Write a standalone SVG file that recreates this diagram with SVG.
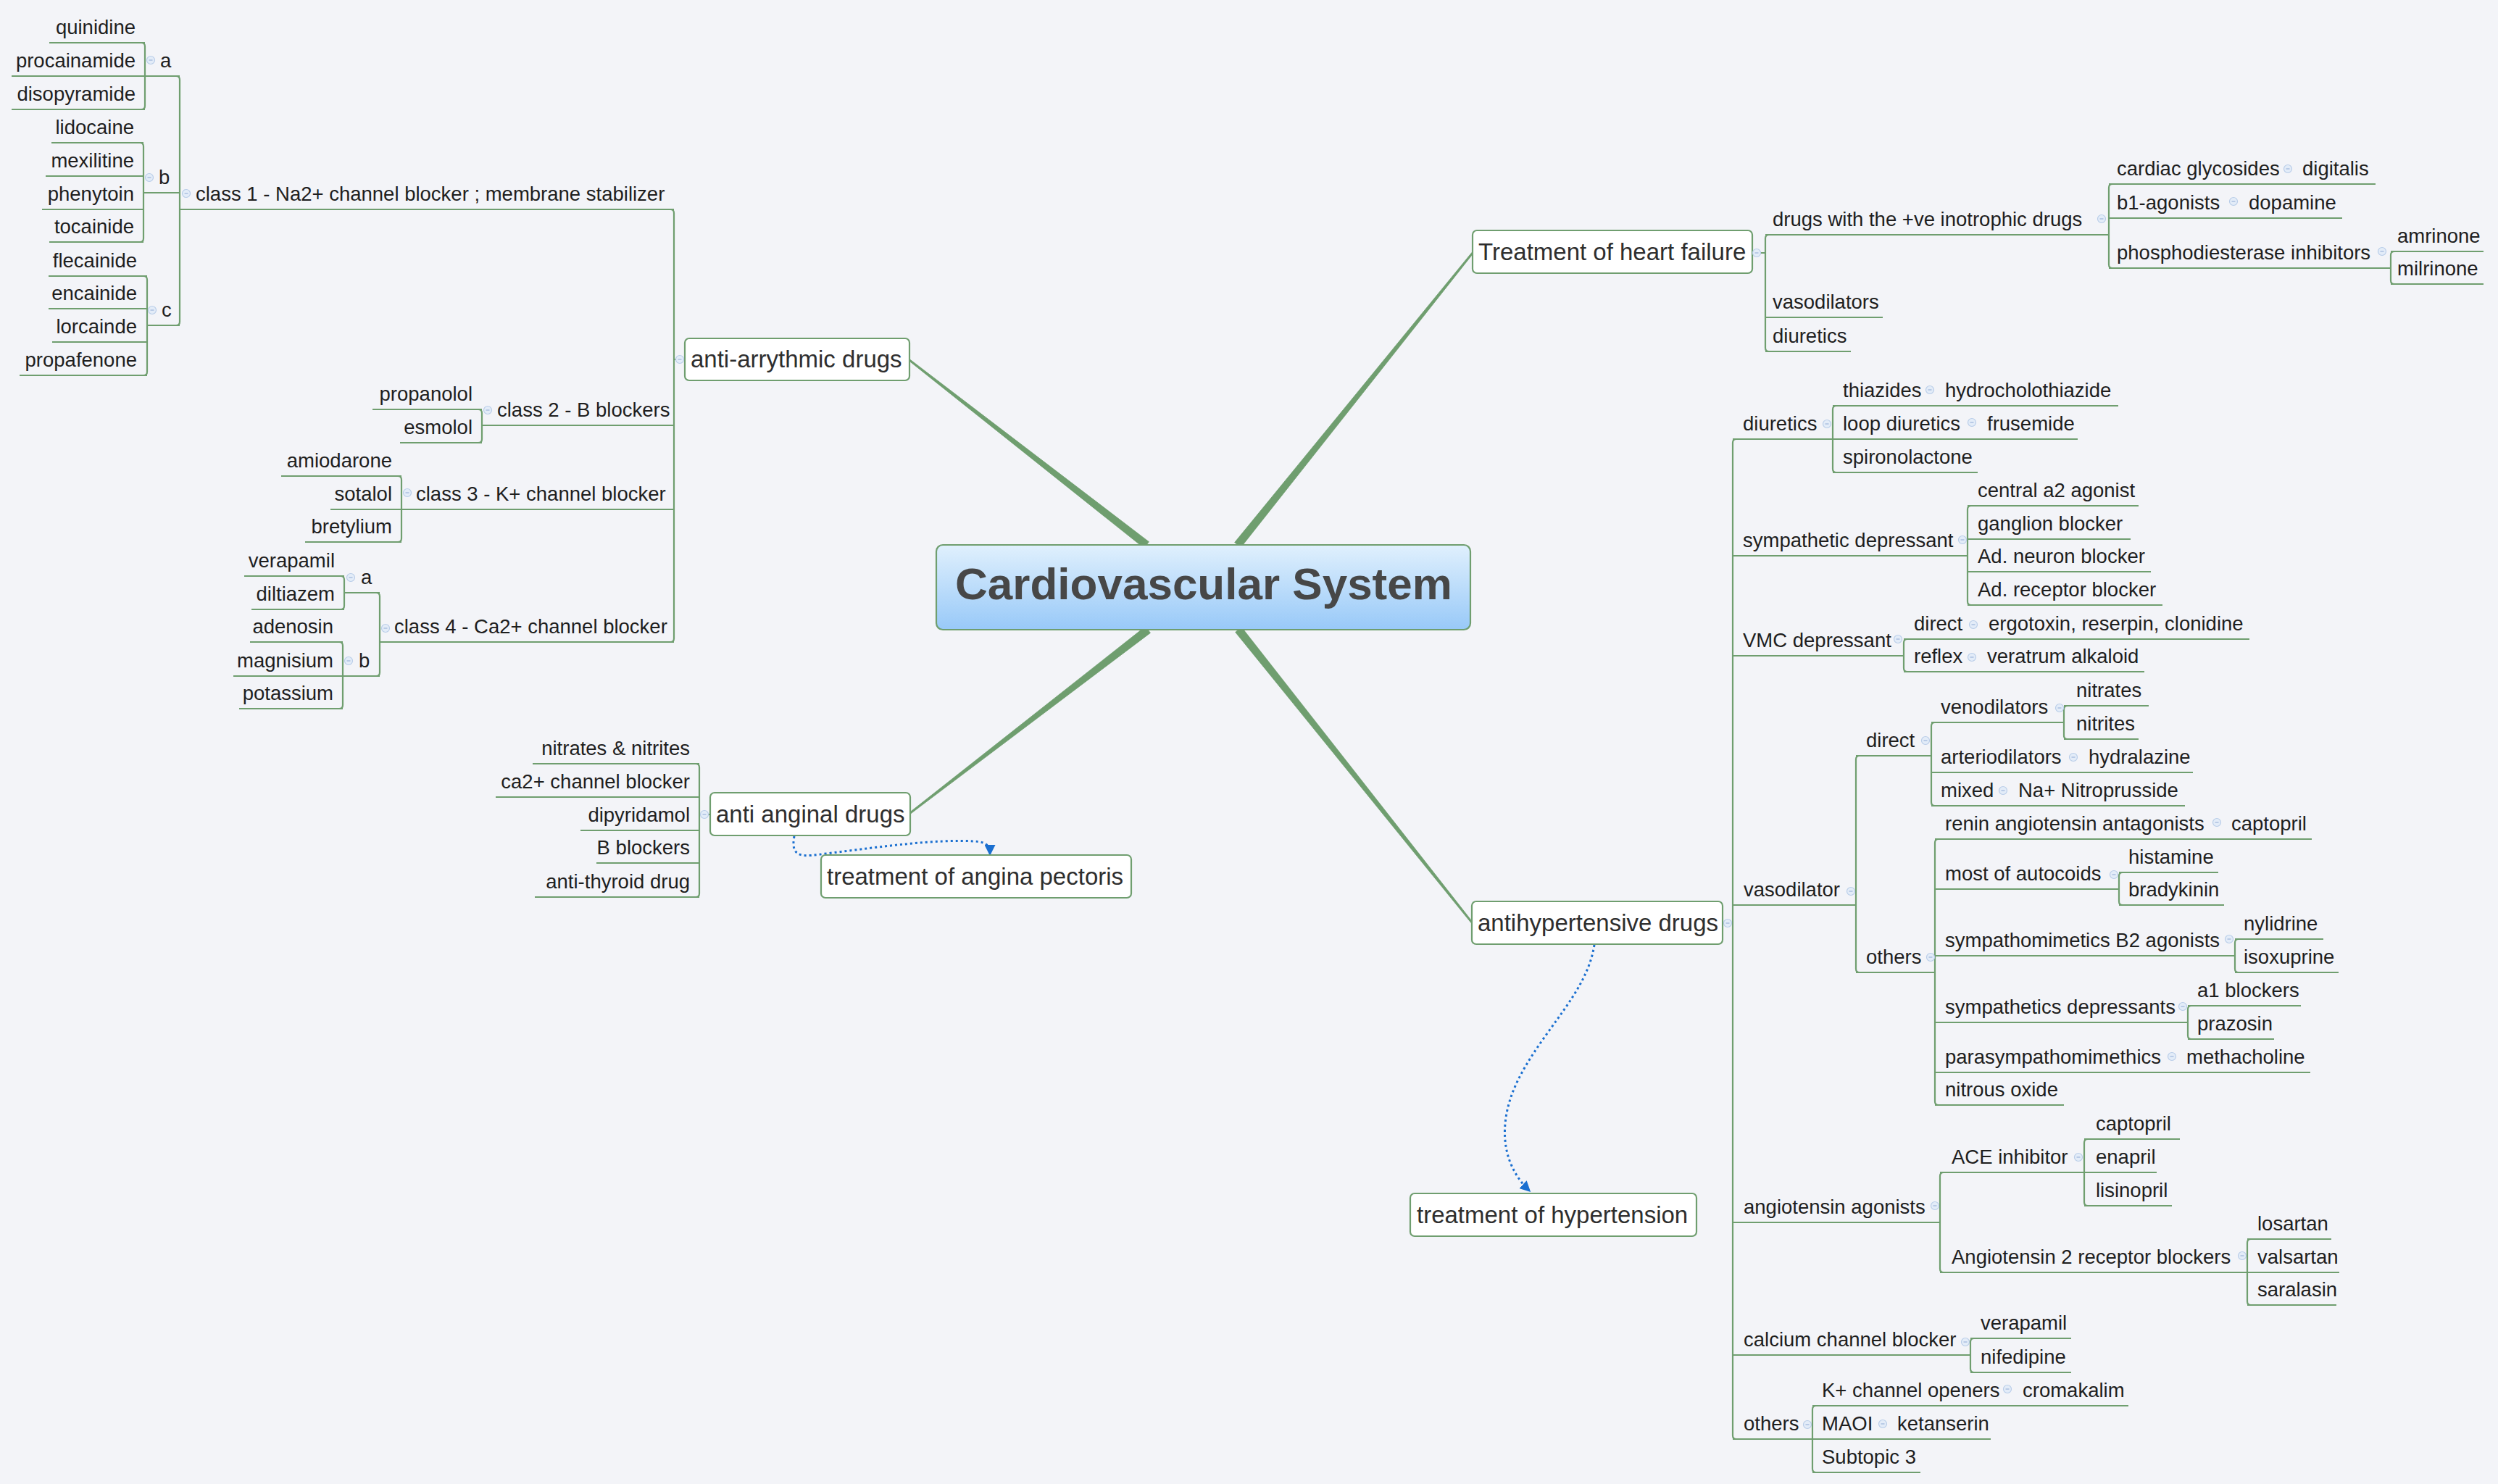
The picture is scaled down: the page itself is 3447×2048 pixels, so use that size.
<svg xmlns="http://www.w3.org/2000/svg" xmlns:xlink="http://www.w3.org/1999/xlink" width="3447" height="2048" viewBox="0 0 3447 2048">
<defs>
<style>
.t{font-family:"Liberation Sans",Arial,sans-serif;font-size:27.5px;fill:#1e1e1e}
.te{font-family:"Liberation Sans",Arial,sans-serif;font-size:27.5px;fill:#1e1e1e;text-anchor:end}
.tp{font-family:"Liberation Sans",Arial,sans-serif;font-size:33px;fill:#2e2e2e}
.box{fill:#ffffff;stroke:#6f9e6f;stroke-width:2.2}
.ln{fill:none;stroke:#6f9e6f;stroke-width:2.2}
.trunk{fill:#6f9e6f;stroke:#6f9e6f;stroke-width:0.8;stroke-linejoin:round}
.rel{fill:none;stroke:#1a6fd0;stroke-width:3;stroke-dasharray:3 4}
</style>
<linearGradient id="cg" x1="0" y1="0" x2="0" y2="1">
<stop offset="0" stop-color="#e0f0fd"/>
<stop offset="1" stop-color="#98c9f8"/>
</linearGradient>
<g id="dot"><circle r="5.5" fill="#e3ecf8" stroke="#b9cde8" stroke-width="1.2"/><line x1="-2.5" y1="0" x2="2.5" y2="0" stroke="#9db6da" stroke-width="1.2"/></g>
<marker id="arr" viewBox="0 0 10 10" refX="8" refY="5" markerWidth="5" markerHeight="5" orient="auto" markerUnits="strokeWidth">
<path d="M0,0 L10,5 L0,10 z" fill="#1a6fd0"/>
</marker>
</defs>
<rect x="0" y="0" width="3447" height="2048" fill="#f3f4f8"/>

<g id="connectors">
<polygon class="trunk" points="1585.4,747.7 1255.7,496.1 1254.3,497.9 1578.6,756.3"/>
<polygon class="trunk" points="1712.3,755.4 2032.9,349.7 2031.1,348.3 1703.7,748.6"/>
<polygon class="trunk" points="1587.4,873.4 1256.7,1122.9 1255.3,1121.1 1580.6,864.6"/>
<polygon class="trunk" points="1713.3,865.6 2031.9,1272.3 2030.1,1273.7 1704.7,872.4"/>
<path class="ln" d="M925,289 Q930,289 930,294 V881 Q930,886 925,886 M930,496 H945
M248,289 H930 M200,105 H248 M68,59 H200 M16,105 H200 M16,151 H200
M195,59 Q200,59 200,64 V146 Q200,151 195,151
M243,105 Q248,105 248,110 V444 Q248,449 243,449
M198,266 H248 M193,197 Q198,197 198,202 V329 Q198,334 193,334
M71,197 H198 M63,243 H198 M58,289 H198 M68,334 H198
M203,449 H248 M198,381 Q203,381 203,386 V513 Q203,518 198,518
M67,381 H203 M67,426 H203 M72,472 H203 M27,518 H203
M665,587 H930 M660,565 Q665,565 665,570 V606 Q665,611 660,611 M514,565 H665 M552,611 H665
M554,703 H930 M549,657 Q554,657 554,662 V743 Q554,748 549,748 M388,657 H554 M456,703 H554 M421,748 H554
M524,886 H930 M519,818 Q524,818 524,823 V928 Q524,933 519,933
M475,818 H524 M470,795 Q475,795 475,800 V836 Q475,841 470,841 M337,795 H475 M347,841 H475
M473,933 H524 M468,886 Q473,886 473,891 V973 Q473,978 468,978 M345,886 H473 M322,933 H473 M330,978 H473
M960,1054 Q965,1054 965,1059 V1233 Q965,1238 960,1238 M965,1124 H980
M735,1054 H965 M684,1100 H965 M801,1146 H965 M823,1191 H965 M738,1238 H965"/>
<path class="ln" d="M2418,349 H2436 M2441,324 Q2436,324 2436,329 V480 Q2436,485 2441,485
M2436,324 H2910 M2915,254 Q2910,254 2910,259 V365 Q2910,370 2915,370
M2910,254 H3278 M2910,301 H3232 M2910,370 H3299
M3304,347 Q3299,347 3299,352 V387 Q3299,392 3304,392 M3299,347 H3427 M3299,392 H3427
M2436,438 H2598 M2436,485 H2554"/>
<path class="ln" d="M2377,1274 H2391 M2396,606 Q2391,606 2391,611 V1981 Q2391,1986 2396,1986
M2391,606 H2529 M2534,560 Q2529,560 2529,565 V647 Q2529,652 2534,652
M2529,560 H2923 M2529,606 H2867 M2529,652 H2729
M2391,767 H2715 M2720,698 Q2715,698 2715,703 V830 Q2715,835 2720,835
M2715,698 H2951 M2715,744 H2940 M2715,789 H2968 M2715,835 H2984
M2391,905 H2627 M2632,882 Q2627,882 2627,887 V922 Q2627,927 2632,927
M2627,882 H3104 M2627,927 H2959
M2391,1249 H2561 M2566,1043 Q2561,1043 2561,1048 V1337 Q2561,1342 2566,1342
M2561,1043 H2665 M2670,997 Q2665,997 2665,1002 V1107 Q2665,1112 2670,1112
M2665,997 H2848 M2853,974 Q2848,974 2848,979 V1015 Q2848,1020 2853,1020
M2848,974 H2965 M2848,1020 H2951 M2665,1066 H3026 M2665,1112 H3015
M2561,1342 H2670 M2675,1158 Q2670,1158 2670,1163 V1520 Q2670,1525 2675,1525
M2670,1158 H3190 M2670,1227 H2924 M2929,1204 Q2924,1204 2924,1209 V1244 Q2924,1249 2929,1249
M2924,1204 H3061 M2924,1249 H3069
M2670,1319 H3084 M3089,1296 Q3084,1296 3084,1301 V1337 Q3084,1342 3089,1342
M3084,1296 H3206 M3084,1342 H3227
M2670,1411 H3019 M3024,1388 Q3019,1388 3019,1393 V1429 Q3019,1434 3024,1434
M3019,1388 H3175 M3019,1434 H3138
M2670,1480 H3188 M2670,1525 H2848
M2391,1687 H2677 M2682,1618 Q2677,1618 2677,1623 V1751 Q2677,1756 2682,1756
M2677,1618 H2876 M2881,1572 Q2876,1572 2876,1577 V1659 Q2876,1664 2881,1664
M2876,1572 H3008 M2876,1618 H2976 M2876,1664 H2997
M2677,1756 H3101 M3106,1710 Q3101,1710 3101,1715 V1796 Q3101,1801 3106,1801
M3101,1710 H3217 M3101,1756 H3228 M3101,1801 H3224
M2391,1870 H2719 M2724,1847 Q2719,1847 2719,1852 V1889 Q2719,1894 2724,1894
M2719,1847 H2858 M2719,1894 H2858
M2391,1986 H2501 M2506,1940 Q2501,1940 2501,1945 V2027 Q2501,2032 2506,2032
M2501,1940 H2937 M2501,1986 H2747 M2501,2032 H2650"/>
<path class="rel" d="M1096,1154 C1090,1186 1110,1182 1140,1178 C1220,1168 1290,1158 1345,1161 C1362,1162 1366,1168 1366,1178" marker-end="url(#arr)"/>
<path class="rel" d="M2200,1304 C2190,1370 2130,1420 2095,1490 C2070,1540 2066,1600 2110,1643" marker-end="url(#arr)"/>
</g>

<g id="central">
<rect x="1292" y="752" width="737" height="117" rx="9" fill="url(#cg)" stroke="#6f9e6f" stroke-width="2.2"/>
<text x="1661" y="827" text-anchor="middle" style="font-family:'Liberation Sans',Arial,sans-serif;font-size:62px;font-weight:bold;fill:#474747">Cardiovascular System</text>
</g>

<g id="anti-arrythmic">
<rect class="box" x="945" y="467" width="310" height="58" rx="6"/>
<text class="tp" x="953" y="507">anti-arrythmic drugs</text>
<use xlink:href="#dot" x="938" y="496"/>
</g>
<g id="class1"><text class="t" x="270" y="277">class 1 - Na2+ channel blocker ; membrane stabilizer</text><use xlink:href="#dot" x="257" y="267"/></g>
<g id="class1-a"><text class="t" x="221" y="93">a</text><use xlink:href="#dot" x="208" y="83"/></g>
<g id="quinidine"><text class="te" x="187" y="47">quinidine</text></g>
<g id="procainamide"><text class="te" x="187" y="93">procainamide</text></g>
<g id="disopyramide"><text class="te" x="187" y="139">disopyramide</text></g>
<g id="class1-b"><text class="t" x="219" y="254">b</text><use xlink:href="#dot" x="206" y="245"/></g>
<g id="lidocaine"><text class="te" x="185" y="185">lidocaine</text></g>
<g id="mexilitine"><text class="te" x="185" y="231">mexilitine</text></g>
<g id="phenytoin"><text class="te" x="185" y="277">phenytoin</text></g>
<g id="tocainide"><text class="te" x="185" y="322">tocainide</text></g>
<g id="class1-c"><text class="t" x="223" y="437">c</text><use xlink:href="#dot" x="210" y="428"/></g>
<g id="flecainide"><text class="te" x="189" y="369">flecainide</text></g>
<g id="encainide"><text class="te" x="189" y="414">encainide</text></g>
<g id="lorcainde"><text class="te" x="189" y="460">lorcainde</text></g>
<g id="propafenone"><text class="te" x="189" y="506">propafenone</text></g>
<g id="class2"><text class="t" x="686" y="575">class 2 - B blockers</text><use xlink:href="#dot" x="673" y="566"/></g>
<g id="propanolol"><text class="te" x="652" y="553">propanolol</text></g>
<g id="esmolol"><text class="te" x="652" y="599">esmolol</text></g>
<g id="class3"><text class="t" x="574" y="691">class 3 - K+ channel blocker</text><use xlink:href="#dot" x="562" y="680"/></g>
<g id="amiodarone"><text class="te" x="541" y="645">amiodarone</text></g>
<g id="sotalol"><text class="te" x="541" y="691">sotalol</text></g>
<g id="bretylium"><text class="te" x="541" y="736">bretylium</text></g>
<g id="class4"><text class="t" x="544" y="874">class 4 - Ca2+ channel blocker</text><use xlink:href="#dot" x="532" y="867"/></g>
<g id="class4-a"><text class="t" x="498" y="806">a</text><use xlink:href="#dot" x="484" y="797"/></g>
<g id="verapamil-1"><text class="te" x="462" y="783">verapamil</text></g>
<g id="diltiazem"><text class="te" x="462" y="829">diltiazem</text></g>
<g id="class4-b"><text class="t" x="495" y="921">b</text><use xlink:href="#dot" x="481" y="912"/></g>
<g id="adenosin"><text class="te" x="460" y="874">adenosin</text></g>
<g id="magnisium"><text class="te" x="460" y="921">magnisium</text></g>
<g id="potassium"><text class="te" x="460" y="966">potassium</text></g>

<g id="anti-anginal">
<rect class="box" x="980" y="1094" width="276" height="59" rx="6"/>
<text class="tp" x="988" y="1135">anti anginal drugs</text>
<use xlink:href="#dot" x="972" y="1124"/>
</g>
<g id="nitrates-nitrites"><text class="te" x="952" y="1042">nitrates &amp; nitrites</text></g>
<g id="ca2-blocker"><text class="te" x="952" y="1088">ca2+ channel blocker</text></g>
<g id="dipyridamol"><text class="te" x="952" y="1134">dipyridamol</text></g>
<g id="b-blockers"><text class="te" x="952" y="1179">B blockers</text></g>
<g id="anti-thyroid"><text class="te" x="952" y="1226">anti-thyroid drug</text></g>
<g id="angina-pectoris">
<rect class="box" x="1133" y="1180" width="428" height="59" rx="6"/>
<text class="tp" x="1141" y="1221">treatment of angina pectoris</text>
</g>

<g id="heart-failure">
<rect class="box" x="2032" y="318" width="386" height="59" rx="6"/>
<text class="tp" x="2040" y="359">Treatment of heart failure</text>
<use xlink:href="#dot" x="2424" y="349"/>
</g>
<g id="inotrophic"><text class="t" x="2446" y="312">drugs with the +ve inotrophic drugs</text><use xlink:href="#dot" x="2900" y="302"/></g>
<g id="cardiac-glycosides"><text class="t" x="2921" y="242">cardiac glycosides</text><use xlink:href="#dot" x="3157" y="233"/></g>
<g id="digitalis"><text class="t" x="3177" y="242">digitalis</text></g>
<g id="b1-agonists"><text class="t" x="2921" y="289">b1-agonists</text><use xlink:href="#dot" x="3082" y="278"/></g>
<g id="dopamine"><text class="t" x="3103" y="289">dopamine</text></g>
<g id="pde-inhibitors"><text class="t" x="2921" y="358">phosphodiesterase inhibitors</text><use xlink:href="#dot" x="3287" y="347"/></g>
<g id="amrinone"><text class="t" x="3308" y="335">amrinone</text></g>
<g id="milrinone"><text class="t" x="3308" y="380">milrinone</text></g>
<g id="hf-vasodilators"><text class="t" x="2446" y="426">vasodilators</text></g>
<g id="hf-diuretics"><text class="t" x="2446" y="473">diuretics</text></g>

<g id="antihypertensive">
<rect class="box" x="2031" y="1244" width="346" height="59" rx="6"/>
<text class="tp" x="2039" y="1285">antihypertensive drugs</text>
<use xlink:href="#dot" x="2384" y="1274"/>
</g>
<g id="hypertension">
<rect class="box" x="1946" y="1647" width="395" height="59" rx="6"/>
<text class="tp" x="1955" y="1688">treatment of hypertension</text>
</g>
<g id="diuretics"><text class="t" x="2405" y="594">diuretics</text><use xlink:href="#dot" x="2521" y="585"/></g>
<g id="thiazides"><text class="t" x="2543" y="548">thiazides</text><use xlink:href="#dot" x="2663" y="538"/></g>
<g id="hydrocholothiazide"><text class="t" x="2684" y="548">hydrocholothiazide</text></g>
<g id="loop-diuretics"><text class="t" x="2543" y="594">loop diuretics</text><use xlink:href="#dot" x="2721" y="583"/></g>
<g id="frusemide"><text class="t" x="2742" y="594">frusemide</text></g>
<g id="spironolactone"><text class="t" x="2543" y="640">spironolactone</text></g>
<g id="sympathetic-depressant"><text class="t" x="2405" y="755">sympathetic depressant</text><use xlink:href="#dot" x="2708" y="745"/></g>
<g id="central-a2"><text class="t" x="2729" y="686">central a2 agonist</text></g>
<g id="ganglion"><text class="t" x="2729" y="732">ganglion blocker</text></g>
<g id="ad-neuron"><text class="t" x="2729" y="777">Ad. neuron blocker</text></g>
<g id="ad-receptor"><text class="t" x="2729" y="823">Ad. receptor blocker</text></g>
<g id="vmc"><text class="t" x="2405" y="893">VMC depressant</text><use xlink:href="#dot" x="2619" y="882"/></g>
<g id="vmc-direct"><text class="t" x="2641" y="870">direct</text><use xlink:href="#dot" x="2723" y="862"/></g>
<g id="ergotoxin"><text class="t" x="2744" y="870">ergotoxin, reserpin, clonidine</text></g>
<g id="reflex"><text class="t" x="2641" y="915">reflex</text><use xlink:href="#dot" x="2721" y="907"/></g>
<g id="veratrum"><text class="t" x="2742" y="915">veratrum alkaloid</text></g>
<g id="vasodilator"><text class="t" x="2406" y="1237">vasodilator</text><use xlink:href="#dot" x="2554" y="1230"/></g>
<g id="vd-direct"><text class="t" x="2575" y="1031">direct</text><use xlink:href="#dot" x="2657" y="1022"/></g>
<g id="venodilators"><text class="t" x="2678" y="985">venodilators</text><use xlink:href="#dot" x="2842" y="977"/></g>
<g id="nitrates"><text class="t" x="2865" y="962">nitrates</text></g>
<g id="nitrites"><text class="t" x="2865" y="1008">nitrites</text></g>
<g id="arteriodilators"><text class="t" x="2678" y="1054">arteriodilators</text><use xlink:href="#dot" x="2861" y="1045"/></g>
<g id="hydralazine"><text class="t" x="2882" y="1054">hydralazine</text></g>
<g id="mixed"><text class="t" x="2678" y="1100">mixed</text><use xlink:href="#dot" x="2764" y="1091"/></g>
<g id="nitroprusside"><text class="t" x="2785" y="1100">Na+ Nitroprusside</text></g>
<g id="vd-others"><text class="t" x="2575" y="1330">others</text><use xlink:href="#dot" x="2664" y="1321"/></g>
<g id="renin"><text class="t" x="2684" y="1146">renin angiotensin antagonists</text><use xlink:href="#dot" x="3059" y="1135"/></g>
<g id="captopril-1"><text class="t" x="3079" y="1146">captopril</text></g>
<g id="autocoids"><text class="t" x="2684" y="1215">most of autocoids</text><use xlink:href="#dot" x="2917" y="1207"/></g>
<g id="histamine"><text class="t" x="2937" y="1192">histamine</text></g>
<g id="bradykinin"><text class="t" x="2937" y="1237">bradykinin</text></g>
<g id="b2-agonists"><text class="t" x="2684" y="1307">sympathomimetics B2 agonists</text><use xlink:href="#dot" x="3076" y="1296"/></g>
<g id="nylidrine"><text class="t" x="3096" y="1284">nylidrine</text></g>
<g id="isoxuprine"><text class="t" x="3096" y="1330">isoxuprine</text></g>
<g id="symp-depressants"><text class="t" x="2684" y="1399">sympathetics depressants</text><use xlink:href="#dot" x="3012" y="1389"/></g>
<g id="a1-blockers"><text class="t" x="3032" y="1376">a1 blockers</text></g>
<g id="prazosin"><text class="t" x="3032" y="1422">prazosin</text></g>
<g id="parasym"><text class="t" x="2684" y="1468">parasympathomimethics</text><use xlink:href="#dot" x="2997" y="1458"/></g>
<g id="methacholine"><text class="t" x="3017" y="1468">methacholine</text></g>
<g id="nitrous-oxide"><text class="t" x="2684" y="1513">nitrous oxide</text></g>
<g id="angiotensin"><text class="t" x="2406" y="1675">angiotensin agonists</text><use xlink:href="#dot" x="2670" y="1664"/></g>
<g id="ace"><text class="t" x="2693" y="1606">ACE inhibitor</text><use xlink:href="#dot" x="2868" y="1597"/></g>
<g id="captopril-2"><text class="t" x="2892" y="1560">captopril</text></g>
<g id="enapril"><text class="t" x="2892" y="1606">enapril</text></g>
<g id="lisinopril"><text class="t" x="2892" y="1652">lisinopril</text></g>
<g id="at2"><text class="t" x="2693" y="1744">Angiotensin 2 receptor blockers</text><use xlink:href="#dot" x="3094" y="1733"/></g>
<g id="losartan"><text class="t" x="3115" y="1698">losartan</text></g>
<g id="valsartan"><text class="t" x="3115" y="1744">valsartan</text></g>
<g id="saralasin"><text class="t" x="3115" y="1789">saralasin</text></g>
<g id="ccb"><text class="t" x="2406" y="1858">calcium channel blocker</text><use xlink:href="#dot" x="2712" y="1852"/></g>
<g id="verapamil-2"><text class="t" x="2733" y="1835">verapamil</text></g>
<g id="nifedipine"><text class="t" x="2733" y="1882">nifedipine</text></g>
<g id="ah-others"><text class="t" x="2406" y="1974">others</text><use xlink:href="#dot" x="2494" y="1966"/></g>
<g id="k-openers"><text class="t" x="2514" y="1928">K+ channel openers</text><use xlink:href="#dot" x="2770" y="1917"/></g>
<g id="cromakalim"><text class="t" x="2791" y="1928">cromakalim</text></g>
<g id="maoi"><text class="t" x="2514" y="1974">MAOI</text><use xlink:href="#dot" x="2598" y="1965"/></g>
<g id="ketanserin"><text class="t" x="2618" y="1974">ketanserin</text></g>
<g id="subtopic3"><text class="t" x="2514" y="2020">Subtopic 3</text></g>
</svg>
